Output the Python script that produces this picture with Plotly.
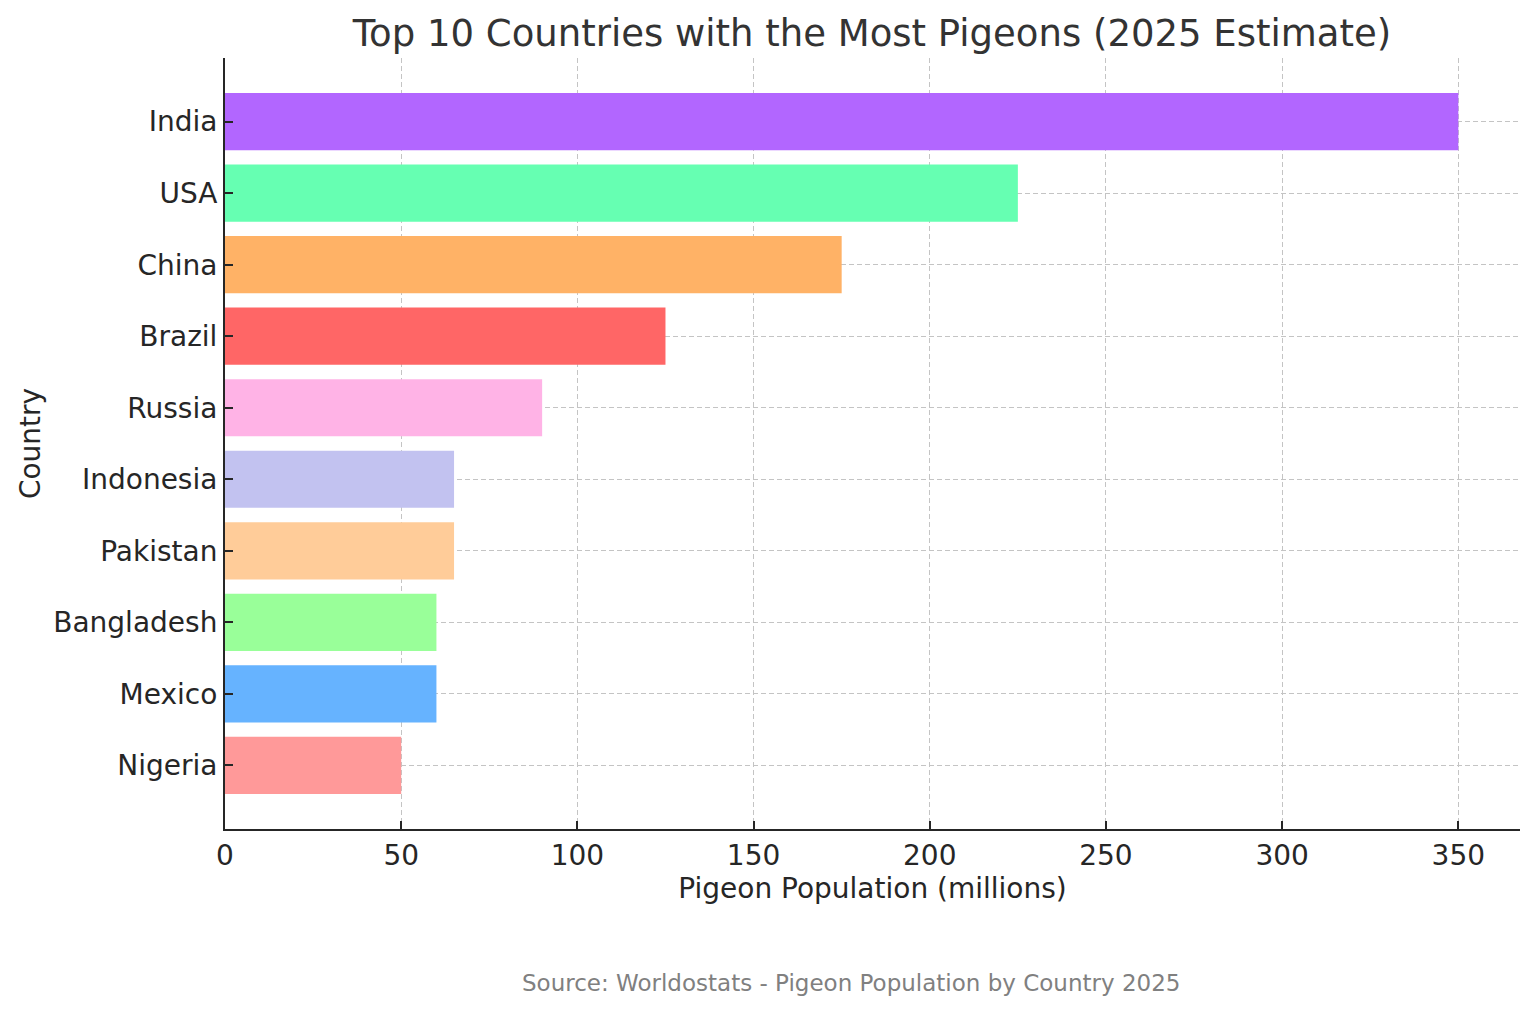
import plotly.graph_objects as go

countries = ["India", "USA", "China", "Brazil", "Russia", "Indonesia", "Pakistan", "Bangladesh", "Mexico", "Nigeria"]
population = [350, 225, 175, 125, 90, 65, 65, 60, 60, 50]
colors = ["#b266ff", "#66ffb2", "#ffb266", "#ff6666", "#ffb3e6", "#c2c2f0", "#ffcc99", "#99ff99", "#66b3ff", "#ff9999"]
x_ticks = [0, 50, 100, 150, 200, 250, 300, 350]

FONT = "DejaVu Sans"
TXT = "#262626"
GRID = "#c4c4c4"

W, H = 1528, 1004
L, R, T, B = 217, 16, 50, 183  # plot area in figure px: x 217..1512, y 50..821
PW, PH = W - L - R, H - T - B

fig = go.Figure()
fig.add_trace(go.Bar(
    y=countries, x=population, orientation="h",
    marker=dict(color=colors, line=dict(width=0)),
    width=0.8, showlegend=False,
))

fig.update_layout(
    width=W, height=H,
    paper_bgcolor="white", plot_bgcolor="white",
    margin=dict(l=L, r=R, t=T, b=B, autoexpand=False),
    font=dict(family=FONT, color=TXT, size=28),
    title=dict(text="Top 10 Countries with the Most Pigeons (2025 Estimate)",
               x=864 / W, xanchor="center", y=1 - 25 / H, yanchor="middle",
               font=dict(size=37, color="#333333", family=FONT)),
    xaxis=dict(range=[0, 367.5], tickvals=x_ticks, ticks="inside", ticklen=8, tickwidth=2,
               tickcolor=TXT, showline=True, linecolor=TXT, linewidth=2, mirror=False,
               showgrid=True, gridcolor=GRID, griddash="5px,3px", gridwidth=1.2,
               zeroline=False, layer="above traces",
               title=dict(text="Pigeon Population (millions)", standoff=7, font=dict(size=28))),
    yaxis=dict(categoryorder="array", categoryarray=countries, autorange=False, range=[9.89, -0.89],
               ticks="inside", ticklen=8, tickwidth=2, tickcolor=TXT,
               showline=True, linecolor=TXT, linewidth=2, mirror=False,
               showgrid=True, gridcolor=GRID, griddash="5px,3px", gridwidth=1.2,
               zeroline=False, layer="above traces",
               title=dict(text="Country", standoff=4, font=dict(size=28))),
    annotations=[dict(text="Source: Worldostats - Pigeon Population by Country 2025",
                      xref="paper", yref="paper", x=(843 - L) / PW, y=(H - B - 975) / PH,
                      xanchor="center", yanchor="middle", showarrow=False,
                      font=dict(size=23, color="#808080", family=FONT))],
)

fig.write_html("out.html")
